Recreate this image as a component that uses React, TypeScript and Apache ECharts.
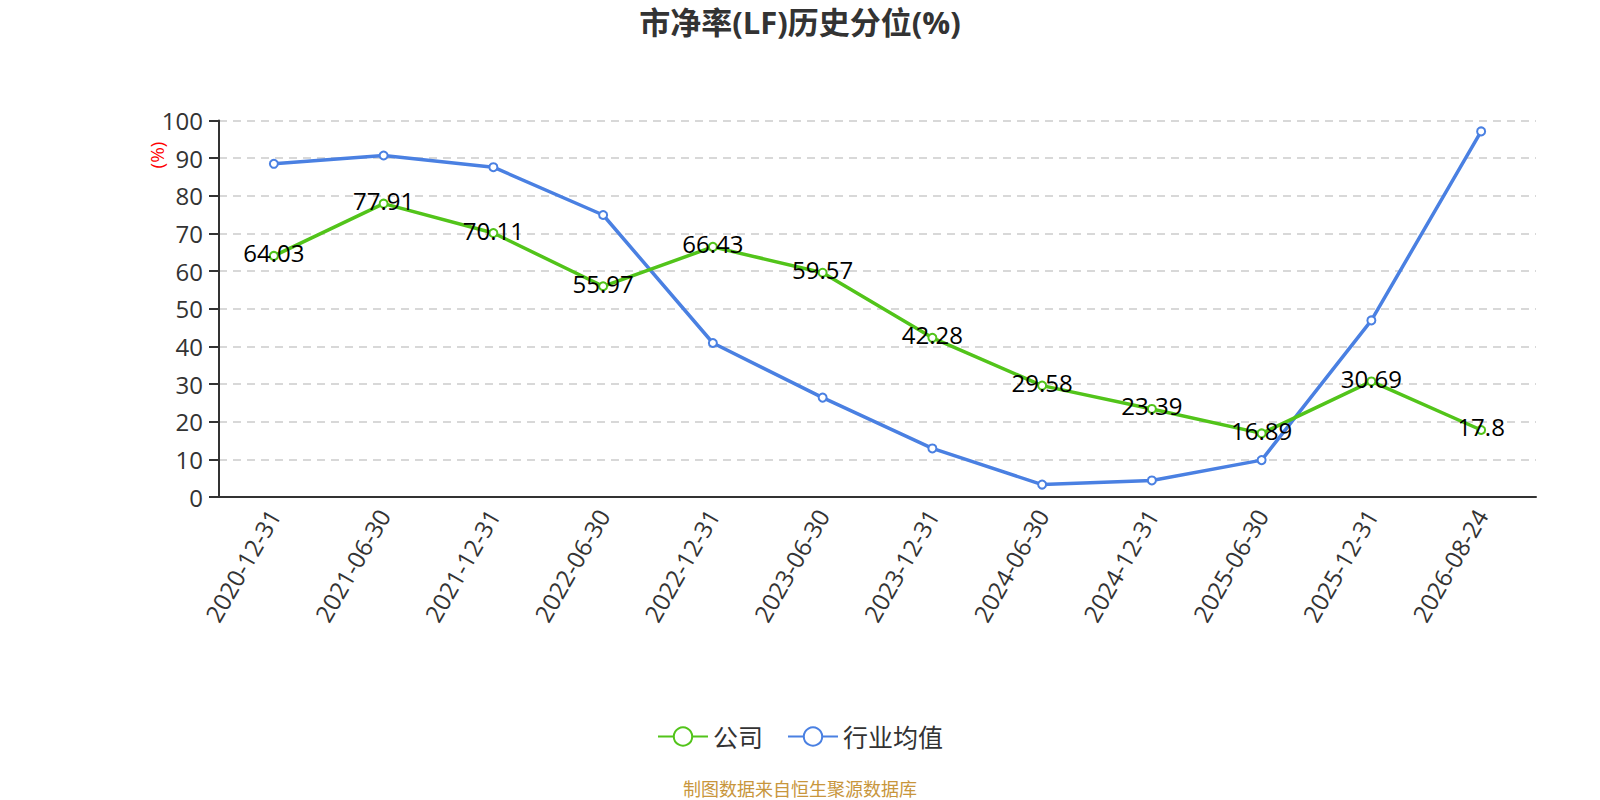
import React, { useEffect, useRef } from "react";
import * as echarts from "echarts";

const categories = [
  "2020-12-31", "2021-06-30", "2021-12-31", "2022-06-30", "2022-12-31", "2023-06-30",
  "2023-12-31", "2024-06-30", "2024-12-31", "2025-06-30", "2025-12-31", "2026-08-24",
];
const companyValues = [64.03, 77.91, 70.11, 55.97, 66.43, 59.57, 42.28, 29.58, 23.39, 16.89, 30.69, 17.8];
const industryValues = [88.5, 90.7, 87.6, 74.9, 40.9, 26.4, 12.9, 3.3, 4.4, 9.8, 46.9, 97.1];
const yTicks = { min: 0, max: 100, interval: 10 };
const seriesNames = ["公司", "行业均值"];
const titleText = "市净率(LF)历史分位(%)";
const unitText = "(%)";
const sourceText = "制图数据来自恒生聚源数据库";

const FONT = "'Open Sans', 'Noto Sans CJK SC', sans-serif";

export default function App() {
  const ref = useRef<HTMLDivElement>(null);
  useEffect(() => {
    if (!ref.current) return;
    const chart = echarts.init(ref.current, undefined, { renderer: "svg" });
    chart.setOption({
      animation: false,
      backgroundColor: "#ffffff",
      textStyle: { fontFamily: FONT },
      title: {
        text: titleText,
        left: "center",
        top: 1,
        textStyle: { fontSize: 31, fontWeight: "bold", color: "#333333", fontFamily: FONT },
      },
      legend: {
        data: seriesNames,
        left: "center",
        top: 719,
        itemWidth: 50,
        itemHeight: 23,
        itemGap: 24,
        textStyle: { fontSize: 25, color: "#333333", fontFamily: FONT },
      },
      grid: { left: 219, right: 64, top: 120.5, bottom: 303, containLabel: false },
      xAxis: {
        type: "category",
        data: categories,
        boundaryGap: true,
        axisLine: { lineStyle: { color: "#333333", width: 2 } },
        axisTick: { alignWithLabel: false, length: 8, lineStyle: { color: "#333333", width: 2 } },
        axisLabel: { rotate: 60, fontSize: 24, color: "#333333", margin: 14, interval: 0, fontFamily: FONT },
      },
      yAxis: {
        type: "value",
        min: yTicks.min,
        max: yTicks.max,
        interval: yTicks.interval,
        axisLine: { show: true, lineStyle: { color: "#333333", width: 2 } },
        axisTick: { show: true, length: 10, lineStyle: { color: "#333333", width: 2 } },
        axisLabel: { fontSize: 24, color: "#333333", margin: 16, fontFamily: FONT },
        splitLine: { show: true, lineStyle: { color: "#cccccc", type: [8, 6], width: 1.5 } },
      },
      series: [
        {
          name: seriesNames[0],
          type: "line",
          data: companyValues,
          symbol: "emptyCircle",
          symbolSize: 8,
          itemStyle: { color: "#52c41a" },
          lineStyle: { color: "#52c41a", width: 3.5 },
          label: {
            show: true,
            position: "inside",
            offset: [0, -3],
            fontSize: 24,
            color: "#000000",
            fontFamily: FONT,
          },
          z: 3,
        },
        {
          name: seriesNames[1],
          type: "line",
          data: industryValues,
          symbol: "emptyCircle",
          symbolSize: 8,
          itemStyle: { color: "#4a80e2" },
          lineStyle: { color: "#4a80e2", width: 3.5 },
          z: 2,
        },
      ],
      graphic: [
        {
          type: "text",
          x: 157,
          y: 155,
          rotation: Math.PI / 2,
          style: {
            text: unitText,
            fill: "#ff0000",
            fontSize: 19,
            fontFamily: FONT,
            textAlign: "center",
            textVerticalAlign: "middle",
          },
        },
        {
          type: "text",
          x: 800,
          y: 789,
          style: {
            text: sourceText,
            fill: "#c8963c",
            fontSize: 18,
            fontFamily: FONT,
            textAlign: "center",
            textVerticalAlign: "middle",
          },
        },
      ],
    });
    return () => chart.dispose();
  }, []);
  return (
    <div
      ref={ref}
      style={{ position: "fixed", left: 0, top: 0, width: 1600, height: 800 }}
    />
  );
}
